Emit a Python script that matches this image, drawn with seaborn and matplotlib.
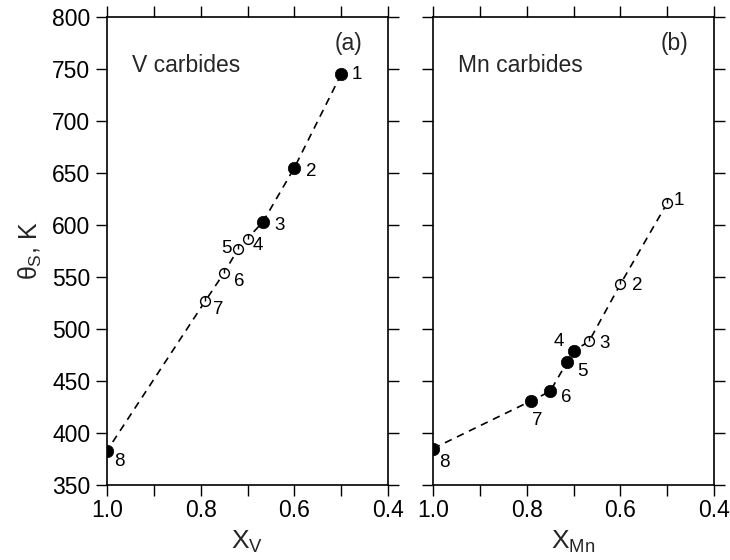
import numpy as np
import pandas as pd
import matplotlib
matplotlib.use("Agg")
import matplotlib.pyplot as plt
import matplotlib.path as mpath
from matplotlib.ticker import MultipleLocator
import seaborn as sns

# ---- data ----
v_x = [0.50, 0.60, 0.667, 0.70, 0.72, 0.75, 0.79, 1.00]
v_theta = [745, 655, 603, 587, 577, 554, 527, 383]
v_filled = [True, True, True, False, False, False, False, True]
v_labels = ["1", "2", "3", "4", "5", "6", "7", "8"]

mn_x = [0.50, 0.60, 0.667, 0.70, 0.714, 0.75, 0.79, 1.00]
mn_theta = [621, 543, 488, 479, 468, 440, 431, 385]
mn_filled = [False, False, False, True, True, True, True, True]
mn_labels = ["1", "2", "3", "4", "5", "6", "7", "8"]

# label offsets (pixels, dx right, dy down)
v_off = [(16, 0), (17, 4), (17, 4), (10, 7), (-12, 0), (15, 9), (13, 9), (12, 11)]
mn_off = [(12, -3), (17, 1), (16, 2), (-15, -9), (16, 9), (16, 6), (6, 20), (11, 14)]

xticks = [1.0, 0.8, 0.6, 0.4]
yticks = [350, 400, 450, 500, 550, 600, 650, 700, 750, 800]

sns.set_theme(style="ticks")
plt.rcParams["font.family"] = ["Liberation Sans", "DejaVu Sans"]
plt.rcParams["mathtext.fontset"] = "custom"
plt.rcParams["mathtext.rm"] = "Liberation Sans"
plt.rcParams["mathtext.it"] = "Liberation Sans"

# open circle with a small vertical stroke (as in the printed figure)
circ = mpath.Path.unit_circle()
stroke = mpath.Path([(0, 0), (0, 1)], [mpath.Path.MOVETO, mpath.Path.LINETO])
open_marker = mpath.Path.make_compound_path(circ, stroke)

fig = plt.figure(figsize=(7.3, 5.6), dpi=100)
axL = fig.add_axes([107 / 730, 1 - 485 / 560, 281 / 730, 468 / 560])
axR = fig.add_axes([433 / 730, 1 - 485 / 560, 281 / 730, 468 / 560])


def draw(ax, xs, ys, filled, labels, offs, name, tag):
    df = pd.DataFrame({"x": xs, "y": ys, "filled": filled})
    sns.lineplot(data=df, x="x", y="y", sort=False, ax=ax, color="black",
                 lw=1.2, linestyle=(0, (4.5, 3.5)), estimator=None)
    f = df[df["filled"]]
    o = df[~df["filled"]]
    sns.scatterplot(data=f, x="x", y="y", ax=ax, color="black", s=80,
                    marker="o", edgecolor="black", linewidth=0.5, zorder=5)
    sns.scatterplot(data=o, x="x", y="y", ax=ax, s=50, marker=open_marker,
                    facecolor="white", edgecolor="black", linewidth=1.0,
                    zorder=5)
    for xx, yy, lab, (dx, dy) in zip(xs, ys, labels, offs):
        ax.annotate(lab, (xx, yy), xytext=(dx, -dy), textcoords="offset pixels",
                    ha="center", va="center", fontsize=13.5, color="black")
    ax.set_xlim(1.0, 0.4)
    ax.set_ylim(350, 800)
    ax.xaxis.set_major_locator(MultipleLocator(0.2))
    ax.xaxis.set_minor_locator(MultipleLocator(0.1))
    ax.set_xticks(xticks)
    ax.set_xticklabels([f"{t:.1f}" for t in xticks])
    ax.set_yticks(yticks)
    ax.tick_params(which="both", direction="out", length=8, width=1.0,
                   top=True, right=True, color="black")
    ax.tick_params(axis="x", which="both", pad=2)
    ax.tick_params(axis="y", pad=4)
    ax.tick_params(labelsize=16.5, colors="black")
    for s in ax.spines.values():
        s.set_linewidth(1.2)
        s.set_color("black")
    ax.text(0.089, 0.897, name, transform=ax.transAxes, fontsize=16.5,
            ha="left", va="center")
    ax.text(0.91, 0.944, tag, transform=ax.transAxes, fontsize=16.5,
            ha="right", va="center")
    ax.set_facecolor("white")


draw(axL, v_x, v_theta, v_filled, v_labels, v_off, "V carbides", "(a)")
draw(axR, mn_x, mn_theta, mn_filled, mn_labels, mn_off, "Mn carbides", "(b)")

axL.set_xlabel(r"X$_\mathrm{V}$", fontsize=19, labelpad=5)
axR.set_xlabel(r"X$_\mathrm{Mn}$", fontsize=19, labelpad=5)
axL.set_ylabel(r"$\theta_\mathrm{S}$, K", fontsize=18, labelpad=6)
axR.set_ylabel("")
axR.set_yticklabels([])

fig.savefig("out.png", dpi=100, facecolor="white")
